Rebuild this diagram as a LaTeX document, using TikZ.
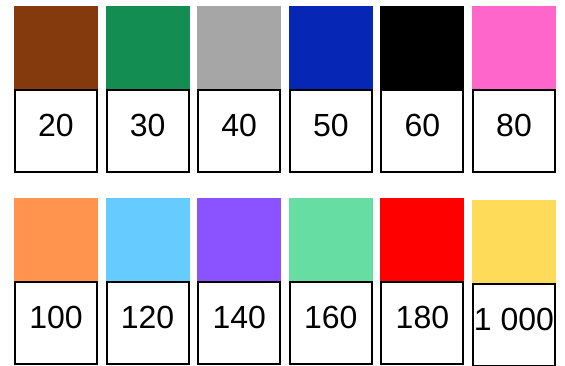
\documentclass[tikz,border=0pt]{standalone}
\usepackage{fontspec}
\setmainfont{Liberation Sans}
\usetikzlibrary{positioning}

\definecolor{cbrown}{HTML}{843A0C}
\definecolor{cgreen}{HTML}{138D52}
\definecolor{cgray}{HTML}{A6A6A6}
\definecolor{cblue}{HTML}{0626B6}
\definecolor{cpink}{HTML}{FF66CC}
\definecolor{corange}{HTML}{FF944F}
\definecolor{csky}{HTML}{66CCFF}
\definecolor{cpurple}{HTML}{8B53FF}
\definecolor{cmint}{HTML}{66DDA3}
\definecolor{cred}{HTML}{FF0000}
\definecolor{cyellow}{HTML}{FFDB5A}

\begin{document}
\begin{tikzpicture}[x=1pt,y=-1pt,
  swatch/.style={fill=#1, minimum width=84pt, minimum height=83pt, inner sep=0pt, outer sep=0pt},
  valbox/.style={draw=black, line width=2pt, fill=white, minimum width=82pt, minimum height=82pt,
    inner sep=0pt, text depth=12pt, font=\fontsize{32}{36}\selectfont}]
\useasboundingbox (0,0) rectangle (565,365);

% top row
\foreach \col/\val [count=\i from 0] in {cbrown/20, cgreen/30, cgray/40, cblue/50, black/60, cpink/80}{
  \node (sw\val) at (56+91.6*\i, 47.5) [swatch=\col] {};
  \node (vb\val) at (56+91.6*\i, 131) [valbox] {\val};
}

% bottom row
\foreach \col/\val/\dy [count=\i from 0] in {corange/100/0, csky/120/0, cpurple/140/0, cmint/160/0, cred/180/0, cyellow/{1 000}/2}{
  \node (sw\i) at (56+91.6*\i, 239.5+\dy) [swatch=\col] {};
  \node (vb\i) at (56+91.6*\i, 323+\dy) [valbox] {\val};
}

\end{tikzpicture}
\end{document}
